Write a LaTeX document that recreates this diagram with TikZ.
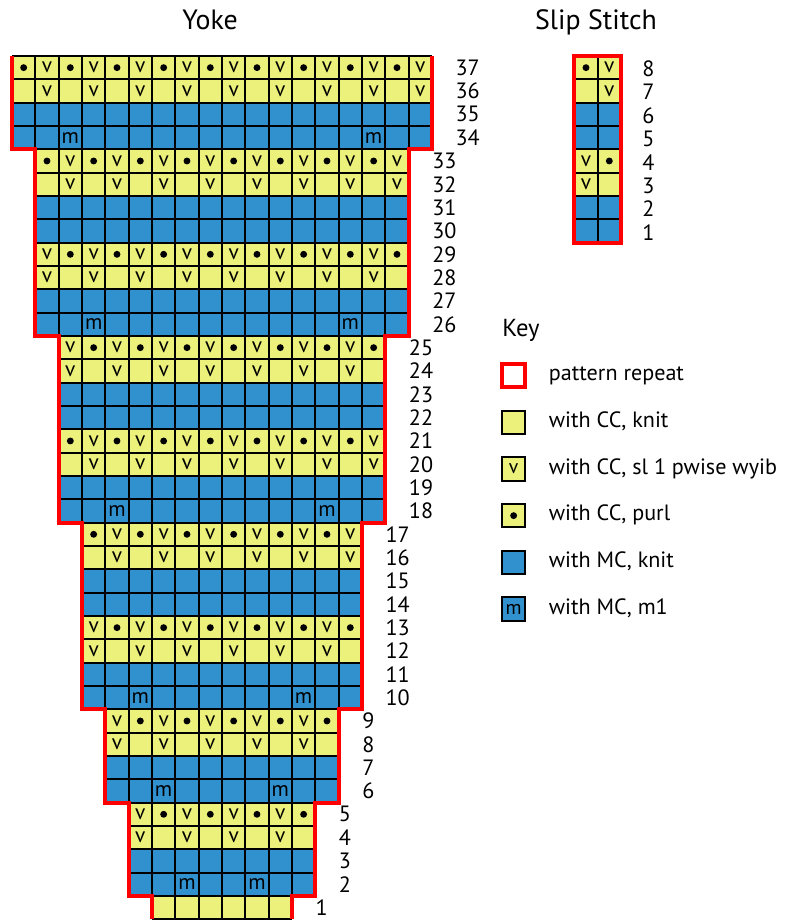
\documentclass[tikz,border=0pt]{standalone}
\usepackage{fontspec}
\setmainfont{PT Sans}
\usetikzlibrary{calc}

\definecolor{ccyellow}{RGB}{235,241,122}
\definecolor{mcblue}{RGB}{49,145,207}
\definecolor{repred}{RGB}{255,0,0}

\begin{document}
\begin{tikzpicture}[x=5mm,y=5mm,
	gridline/.style={draw=black,line width=1.3pt},
	repline/.style={draw=repred,line width=2.6pt},
	sym/.style={inner sep=0pt,font=\fontsize{13}{13}\selectfont},
	purl/.style={circle,fill=black,inner sep=0pt,minimum size=4.2pt},
	rownum/.style={anchor=west,inner sep=0pt,font=\fontsize{13.5}{13.5}\selectfont},
	keytxt/.style={anchor=west,inner sep=0pt,text height=1.6ex,text depth=.3ex,font=\fontsize{13.5}{13.5}\selectfont},
	charttitle/.style={anchor=base,inner sep=0pt,font=\fontsize{17}{17}\selectfont},
	keybox/.style={draw=black,line width=1.3pt,minimum size=5mm,inner sep=0pt},
]
	\useasboundingbox (-0.514,-0.03) rectangle (33.13,39.4);

	\node[charttitle] (yoke) at (8.49,38.12) {Yoke};
	\node[charttitle] (slip) at (25.03,38.12) {Slip Stitch};

	% yoke: first/last stitch, first/last row of each width
	\foreach \lo/\hi/\rlo/\rhi in {1/18/34/37,2/17/26/33,3/16/18/25,4/15/10/17,5/14/6/9,6/13/2/5,7/12/1/1}{
		\foreach \r [evaluate={\p=int(mod(\r+2,8))}] in {\rlo,...,\rhi}{
			% p = 2,3,6,7 are CC rows
			\def\bandcol{mcblue}
			\ifnum\p=2 \def\bandcol{ccyellow}\fi
			\ifnum\p=3 \def\bandcol{ccyellow}\fi
			\ifnum\p=6 \def\bandcol{ccyellow}\fi
			\ifnum\p=7 \def\bandcol{ccyellow}\fi
			\ifnum\r=1 \def\bandcol{ccyellow}\def\p{0}\fi
			\fill[fill=\bandcol] (\lo-1,\r-1) rectangle (\hi,\r);
			\node[rownum] (r\r) at (\hi+1,\r-.5) {\r};
			\foreach \c [evaluate={\k=int(2*\p+mod(\c,2))}] in {\lo,...,\hi}{
				\ifcase\k\relax
				\or\or\or\or
				\or \node[sym] (s\r-\c) at (\c-.5,\r-.5) {v};
				\or \node[purl] (s\r-\c) at (\c-.5,\r-.5) {};
				\or \node[sym] (s\r-\c) at (\c-.5,\r-.5) {v};
				\or\or\or\or
				\or \node[sym] (s\r-\c) at (\c-.5,\r-.5) {v};
				\or
				\or \node[sym] (s\r-\c) at (\c-.5,\r-.5) {v};
				\or \node[purl] (s\r-\c) at (\c-.5,\r-.5) {};
				\fi
			}
			\ifnum\r=\rlo\relax\ifnum\r>1\relax
				\node[sym] (m\r-a) at (\lo+1.5,\r-.5) {m};
				\node[sym] (m\r-b) at (\hi-2.5,\r-.5) {m};
			\fi\fi
		}
		\draw[gridline,step=1] (\lo-1,\rlo-1) grid (\hi,\rhi);
	}
	\draw[repline] (0,37) |- (1,33) |- (2,25) |- (3,17) |- (4,9) |- (5,5) |- (6,1) -- (6,0);
	\draw[repline] (18,37) |- (17,33) |- (16,25) |- (15,17) |- (14,9) |- (13,5) |- (12,1) -- (12,0);

	% slip stitch chart
	\begin{scope}[shift={(24.1,29)}]
		\fill[mcblue] (0,0) rectangle (2,2);
		\fill[ccyellow] (0,2) rectangle (2,4);
		\fill[mcblue] (0,4) rectangle (2,6);
		\fill[ccyellow] (0,6) rectangle (2,8);
		\draw[gridline,step=1] (0,0) grid (2,8);
		\node[sym] (sl3-1) at (.5,2.5) {v};
		\node[sym] (sl4-1) at (.5,3.5) {v};
		\node[purl] (sl4-2) at (1.5,3.5) {};
		\node[sym] (sl7-2) at (1.5,6.5) {v};
		\node[purl] (sl8-1) at (.5,7.5) {};
		\node[sym] (sl8-2) at (1.5,7.5) {v};
		\draw[repline] (0,0) rectangle (2,8);
		\foreach \k in {1,...,8}
			\node[rownum] (sn\k) at (2.9,\k-.55) {\k};
	\end{scope}

	% key
	\node[anchor=west,inner sep=0pt,font=\fontsize{15}{15}\selectfont] (key) at (21,25.25) {Key};
	\node[keybox,draw=repred,line width=2.6pt,fill=white] (k1) at (21.5,23.3) {};
	\node[keybox,fill=ccyellow] (k2) at (21.5,21.3) {};
	\node[keybox,fill=ccyellow,font=\fontsize{12}{12}\selectfont] (k3) at (21.5,19.3) {v};
	\node[keybox,fill=ccyellow] (k4) at (21.5,17.3) {};
	\node[purl] (k4dot) at (k4) {};
	\node[keybox,fill=mcblue] (k5) at (21.5,15.3) {};
	\node[keybox,fill=mcblue,font=\fontsize{12}{12}\selectfont] (k6) at (21.5,13.3) {m};
	\node[keytxt] (t1) at (23,23.3) {pattern repeat};
	\node[keytxt] (t2) at (23,21.3) {with CC, knit};
	\node[keytxt] (t3) at (23,19.3) {with CC, sl 1 pwise wyib};
	\node[keytxt] (t4) at (23,17.3) {with CC, purl};
	\node[keytxt] (t5) at (23,15.3) {with MC, knit};
	\node[keytxt] (t6) at (23,13.3) {with MC, m1};
\end{tikzpicture}
\end{document}
